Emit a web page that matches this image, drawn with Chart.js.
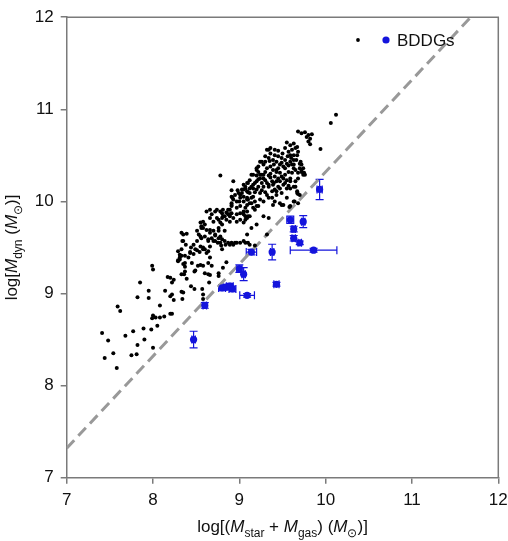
<!DOCTYPE html>
<html>
<head>
<meta charset="utf-8">
<script src="https://cdn.jsdelivr.net/npm/chart.js@4"></script>
<style>
  html, body { margin: 0; padding: 0; background: #fff; overflow: hidden; }
  #wrap { width: 508px; height: 541px; }
</style>
</head>
<body>
<div id="wrap"><canvas id="massChart"></canvas></div>
<script>
// tick values shared by both axes
const tickValues = [7, 8, 9, 10, 11, 12];

// comparison sample: [log(Mstar+Mgas), log(Mdyn)]
const comparisonPoints = [
  // faint tail
  [7.41,8.57],[7.48,8.49],[7.44,8.30],[7.54,8.35],[7.58,8.19],[7.59,8.86],[7.62,8.81],[7.68,8.54],
  [7.75,8.33],[7.81,8.34],[7.77,8.59],[7.82,8.44],[7.89,8.62],[7.90,8.50],[7.98,8.61],[8.00,8.41],
  [7.99,8.73],[8.00,8.76],[8.03,8.74],[8.08,8.74],[8.13,8.75],[8.22,8.78],[8.05,8.65],[8.08,8.87],
  [7.82,8.96],[7.95,8.95],[7.95,9.03],[7.85,9.12],[8.14,9.03],[8.20,8.97],[8.24,8.93],[8.17,9.18],
  [8.20,9.17],[8.24,9.15],[8.22,9.12],[7.99,9.30],[8.00,9.26],[8.20,8.78],[8.22,8.99],
  // middle
  [8.29,9.36],[8.33,9.02],[8.34,8.94],[8.44,9.08],[8.48,9.05],[8.57,9.05],[8.58,8.99],[8.45,9.33],
  [8.52,9.30],[8.58,9.30],[8.37,9.29],[8.48,9.24],[8.36,9.21],[8.39,9.16],[8.60,9.22],[8.66,9.20],
  [8.65,9.12],[8.55,9.31],[8.49,9.25],[8.76,9.22],[8.76,9.19],[8.64,9.21],[8.85,9.34],[8.81,9.28],
  [8.31,9.37],[8.33,9.41],[8.37,9.41],[8.43,9.45],[8.47,9.43],[8.44,9.50],[8.38,9.53],[8.34,9.57],
  [8.29,9.46],[8.51,9.47],[8.54,9.45],[8.58,9.50],[8.60,9.48],[8.64,9.46],[8.66,9.51],[8.58,8.94],
  [8.33,9.21],[8.35,9.01],[8.31,9.39],[8.35,9.32],[8.37,9.24],
  [8.35,9.64],[8.39,9.65],[8.33,9.66],[8.55,9.77],[8.56,9.73],[8.58,9.71],[8.60,9.75],[8.62,9.69],
  [8.51,9.68],[8.53,9.64],[8.56,9.60],[8.60,9.62],[8.64,9.59],[8.68,9.60],[8.70,9.57],[8.72,9.63],
  [8.76,9.68],[8.78,9.62],[8.80,9.59],[8.83,9.57],[8.87,9.55],[8.89,9.53],[8.95,9.55],[9.01,9.55],
  [9.05,9.57],[9.09,9.64],[9.32,9.64],[8.62,9.89],[8.66,9.91],[8.74,9.91],[8.78,9.89],[8.81,9.91],
  [8.85,9.88],[8.89,9.91],[8.76,9.80],[8.80,9.82],[8.83,9.84],[8.87,9.86],[8.91,9.87],[8.78,9.77],
  [8.58,9.78],[8.68,9.86],[8.70,9.78],[8.74,9.82],[8.80,9.75],[8.83,9.68],[8.64,9.57],[8.75,9.55],
  [8.79,9.52],[8.84,9.53],[8.91,9.55],[9.14,9.71],[9.20,9.75],[8.93,9.53],[9.07,9.55],[9.12,9.53],
  [9.18,9.52],[9.28,9.84],[9.34,9.82],[9.49,9.96],[9.58,9.94],
  [9.10,10.02],[9.14,9.98],[9.05,9.89],[9.01,9.87],[9.07,9.84],[9.12,9.84],[9.18,9.91],[8.87,9.91],
  [8.89,9.86],[8.91,9.95],[8.81,9.84],[8.85,9.80],[8.66,9.82],[8.56,9.71],[8.66,9.69],[8.70,9.68],
  [8.76,9.71],[8.89,9.78],[8.97,9.78],[9.01,9.80],[9.05,9.77],[9.09,9.82],[8.66,9.66],[8.72,9.64],
  [8.76,9.60],[8.72,9.57],[8.78,9.55],[8.55,9.62],[8.51,9.57],[8.47,9.53],[8.55,9.51],[8.58,9.48],
  [8.49,9.48],[8.43,9.44],[8.41,9.39],[8.35,9.57],[8.33,9.48],[8.31,9.42],[8.29,9.35],[8.37,9.33],
  [8.62,9.44],[8.66,9.39],[8.64,9.33],[8.68,9.30],[8.80,9.48],[8.97,9.55],[9.10,9.55],
  // dense core
  [8.91,9.98],[8.93,10.02],[8.91,10.05],[8.95,10.07],[8.99,10.09],[9.03,10.13],[9.07,10.16],[9.10,10.20],
  [9.12,10.23],[9.16,10.18],[9.20,10.22],[9.24,10.25],[9.05,10.05],[9.09,10.02],[9.12,9.98],[9.16,10.05],
  [9.20,10.13],[9.24,10.09],[9.28,10.16],[9.07,9.93],[9.09,9.89],[9.10,9.84],[9.20,9.95],[9.05,9.86],
  [9.07,9.80],[9.01,9.95],[8.97,9.93],[8.89,9.84],[8.93,9.82],[8.97,9.86],
  [9.24,10.43],[9.28,10.40],[9.32,10.36],[9.36,10.38],[9.39,10.34],[9.43,10.32],[9.47,10.31],[9.49,10.27],
  [9.53,10.29],[9.57,10.32],[9.41,10.27],[9.45,10.25],[9.38,10.22],[9.34,10.18],[9.30,10.23],[9.26,10.29],
  [9.22,10.32],[9.20,10.36],[9.61,10.40],[9.63,10.36],[9.72,10.32],[9.74,10.29],[9.68,10.25],[9.65,10.22],
  [9.59,10.22],[9.55,10.23],[9.51,10.18],[9.45,10.16],[9.41,10.13],[9.38,10.11],[9.43,10.07],[9.49,10.09],
  [9.55,10.14],[9.63,10.16],[9.67,10.09],[9.70,10.07],[8.78,10.28],[8.93,10.22],[8.91,10.12],[8.97,10.00],
  [9.01,10.04],[9.09,10.11],[9.12,10.14],[9.28,10.29],[9.47,9.98],[9.51,9.96],[9.63,10.00],[9.68,9.98],
  [9.05,10.00],[9.09,9.96],[9.16,9.93],[9.22,9.95],[9.28,10.00],[9.34,10.04],[9.41,10.00],[9.39,9.96],
  [9.55,10.04],[9.59,9.95],
  [9.34,10.56],[9.36,10.52],[9.41,10.50],[9.45,10.49],[9.49,10.47],[9.53,10.45],[9.39,10.45],[9.43,10.43],
  [9.47,10.40],[9.51,10.38],[9.55,10.41],[9.59,10.43],[9.63,10.45],[9.70,10.41],[9.71,10.43],[9.70,10.36],
  [9.75,10.31],[9.68,10.31],[9.61,10.31],[9.65,10.34],
  [9.41,10.56],[9.36,10.58],[9.34,10.47],[9.30,10.43],[9.43,10.34],[9.63,10.40],[9.59,10.25],[9.51,10.25],
  [9.43,10.22],[9.39,10.18],[9.34,10.16],[9.28,10.25],[9.16,10.14],[9.12,10.09],[9.09,10.04],[9.03,10.09],
  [9.07,10.14],[9.14,10.29],[9.24,10.29],[9.72,10.34],[9.24,10.02],[9.32,10.07],[9.38,10.04],[9.43,10.11],
  [9.47,10.14],[9.59,10.14],[9.65,10.16],[9.72,10.40],[9.76,10.29],[9.67,10.11],[9.64,10.00],[9.68,10.08],
  [9.32,10.56],[9.30,10.49],[9.26,10.43],[9.22,10.38],[9.20,10.34],[9.16,10.29],[9.09,10.20],[9.05,10.13],
  [9.01,10.07],[8.92,10.04],[8.91,9.96],[8.72,9.89],[8.80,9.87],
  [9.10,10.10],[9.14,10.16],[9.18,10.20],[9.22,10.24],[9.26,10.20],[9.30,10.32],[9.34,10.28],[9.36,10.30],
  [9.40,10.40],[9.45,10.36],[9.49,10.42],[9.53,10.36],[9.57,10.39],[9.60,10.47],[9.18,10.10],[9.22,10.16],
  [9.26,10.12],[9.30,10.10],[9.32,10.20],[9.36,10.26],[9.40,10.20],[9.14,10.04],[9.18,10.00],[9.05,10.18],
  [9.20,10.28],[9.00,10.00],[8.98,10.12],[9.35,10.44],[9.45,10.55],[9.50,10.52],[9.56,10.49],[9.66,10.45],
  [9.74,10.36],[9.53,10.20],[9.57,10.17],[9.47,10.22],
  // upper end
  [9.55,10.64],[9.59,10.61],[9.63,10.63],[9.65,10.58],[9.67,10.59],[9.61,10.56],[9.57,10.54],[9.53,10.58],
  [9.59,10.50],[9.63,10.50],[9.67,10.50],[9.68,10.54],
  [9.68,10.76],[9.72,10.74],[9.76,10.75],[9.78,10.70],[9.80,10.72],[9.82,10.68],[9.84,10.73],[9.80,10.65],
  [9.82,10.62],[9.94,10.57],[10.06,10.85],[10.12,10.94]
];

// BDDGs with their errors
const bddgMass    = [9.93, 9.59, 9.74, 9.63, 9.63, 9.70, 9.86, 9.38, 9.14, 9.00, 9.05, 9.43, 8.80, 8.85, 8.89, 8.92, 9.09, 8.60, 8.47];
const bddgDyn     = [10.13, 9.80, 9.78, 9.70, 9.60, 9.55, 9.47, 9.45, 9.45, 9.27, 9.21, 9.10, 9.06, 9.07, 9.08, 9.05, 8.98, 8.87, 8.50];
const bddgMassErr = [0.03, 0.04, 0.02, 0.02, 0.02, 0.02, 0.27, 0.02, 0.06, 0.03, 0.02, 0.03, 0.04, 0.04, 0.04, 0.04, 0.085, 0.02, 0.02];
const bddgDynErr  = [0.11, 0.04, 0.065, 0.03, 0.03, 0.02, 0.02, 0.085, 0.03, 0.04, 0.07, 0.02, 0.03, 0.03, 0.03, 0.03, 0.02, 0.03, 0.09];

// dashed reference line
const refLineMass = [7, 11.68];
const refLineDyn  = [7.32, 12];

const BLUE = '#1414dc';
const AXIS = '#7a7a7a';
const FONT = '"Liberation Sans", Arial, Helvetica, sans-serif';

// draws a label made of runs (italic / subscript) centred on x
function drawRuns(ctx, runs, x, y) {
  const fontFor = r => (r.italic ? 'italic ' : '') + (r.sub ? 12 : 17) + 'px ' + FONT;
  let total = 0;
  runs.forEach(r => { ctx.font = fontFor(r); total += ctx.measureText(r.t).width; });
  let cx = x - total / 2;
  ctx.textAlign = 'left';
  ctx.textBaseline = 'alphabetic';
  runs.forEach(r => {
    ctx.font = fontFor(r);
    ctx.fillText(r.t, cx, y + (r.sub ? 4.5 : 0));
    cx += ctx.measureText(r.t).width;
  });
}

const xTitle = [
  { t: 'log[(' }, { t: 'M', italic: true }, { t: 'star', sub: true },
  { t: ' + ' }, { t: 'M', italic: true }, { t: 'gas', sub: true },
  { t: ') (' }, { t: 'M', italic: true }, { t: '\u2299', sub: true }, { t: ')]' }
];
const yTitle = [
  { t: 'log[' }, { t: 'M', italic: true }, { t: 'dyn', sub: true },
  { t: ' (' }, { t: 'M', italic: true }, { t: '\u2299', sub: true }, { t: ')]' }
];

const decorPlugin = {
  id: 'decor',
  beforeDatasetsDraw(chart) {
    // error bars of the BDDGs
    const { ctx, scales: { x, y } } = chart;
    ctx.save();
    ctx.strokeStyle = BLUE;
    ctx.lineWidth = 1.2;
    const cap = 4;
    bddgMass.forEach((m, i) => {
      const px = x.getPixelForValue(m), py = y.getPixelForValue(bddgDyn[i]);
      const x0 = x.getPixelForValue(m - bddgMassErr[i]), x1 = x.getPixelForValue(m + bddgMassErr[i]);
      const y0 = y.getPixelForValue(bddgDyn[i] - bddgDynErr[i]), y1 = y.getPixelForValue(bddgDyn[i] + bddgDynErr[i]);
      ctx.beginPath();
      ctx.moveTo(x0, py); ctx.lineTo(x1, py);
      ctx.moveTo(x0, py - cap); ctx.lineTo(x0, py + cap);
      ctx.moveTo(x1, py - cap); ctx.lineTo(x1, py + cap);
      ctx.moveTo(px, y0); ctx.lineTo(px, y1);
      ctx.moveTo(px - cap, y0); ctx.lineTo(px + cap, y0);
      ctx.moveTo(px - cap, y1); ctx.lineTo(px + cap, y1);
      ctx.stroke();
    });
    ctx.restore();
  },
  afterDraw(chart) {
    const { ctx, chartArea: a } = chart;
    ctx.save();
    // frame on top and right
    ctx.strokeStyle = AXIS;
    ctx.lineWidth = 1.5;
    ctx.beginPath();
    ctx.moveTo(a.left, a.top); ctx.lineTo(a.right, a.top); ctx.lineTo(a.right, a.bottom);
    ctx.stroke();

    // legend
    ctx.fillStyle = '#000';
    ctx.beginPath(); ctx.arc(358, 40, 1.9, 0, Math.PI * 2); ctx.fill();
    ctx.fillStyle = BLUE;
    ctx.beginPath(); ctx.arc(386, 40, 3.6, 0, Math.PI * 2); ctx.fill();
    ctx.fillStyle = '#111';
    ctx.font = '17px ' + FONT;
    ctx.textAlign = 'left';
    ctx.textBaseline = 'middle';
    ctx.fillText('BDDGs', 397, 41);

    // axis titles
    ctx.fillStyle = '#111';
    drawRuns(ctx, xTitle, (a.left + a.right) / 2, 532);
    ctx.translate(17, (a.top + a.bottom) / 2);
    ctx.rotate(-Math.PI / 2);
    drawRuns(ctx, yTitle, 0, 0);
    ctx.restore();
  }
};

const ctx = document.getElementById('massChart').getContext('2d');

new Chart(ctx, {
  type: 'scatter',
  data: {
    datasets: [
      {
        label: 'BDDGs',
        data: bddgMass.map((m, i) => ({ x: m, y: bddgDyn[i] })),
        backgroundColor: BLUE,
        borderColor: BLUE,
        borderWidth: 0,
        pointRadius: 3.6
      },
      {
        label: 'comparison',
        data: comparisonPoints.map(p => ({ x: p[0], y: p[1] })),
        backgroundColor: '#000',
        borderWidth: 0,
        pointRadius: 2
      },
      {
        type: 'line',
        label: 'reference',
        data: refLineMass.map((m, i) => ({ x: m, y: refLineDyn[i] })),
        borderColor: '#999',
        borderWidth: 3,
        borderDash: [11, 6],
        pointRadius: 0,
        fill: false
      }
    ]
  },
  options: {
    responsive: true,
    maintainAspectRatio: false,
    animation: false,
    layout: { padding: { top: 13, right: 0, left: 0, bottom: 0 } },
    plugins: { legend: { display: false }, tooltip: { enabled: false } },
    scales: {
      x: {
        type: 'linear',
        min: 7, max: 12,
        afterBuildTicks: s => { s.ticks = tickValues.map(v => ({ value: v })); },
        afterFit: s => { s.height = 63.3; s.paddingRight = 9.7; },
        grid: { drawOnChartArea: false, tickLength: 6, color: AXIS, lineWidth: 1.5 },
        border: { color: AXIS, width: 1.5 },
        ticks: { color: '#111', padding: 6, font: { family: FONT, size: 17 } }
      },
      y: {
        type: 'linear',
        min: 7, max: 12,
        afterBuildTicks: s => { s.ticks = tickValues.map(v => ({ value: v })); },
        afterFit: s => { s.width = 66.7; },
        grid: { drawOnChartArea: false, tickLength: 6, color: AXIS, lineWidth: 1.5 },
        border: { color: AXIS, width: 1.5 },
        ticks: { color: '#111', padding: 7, font: { family: FONT, size: 17 } }
      }
    }
  },
  plugins: [decorPlugin]
});
</script>
</body>
</html>
